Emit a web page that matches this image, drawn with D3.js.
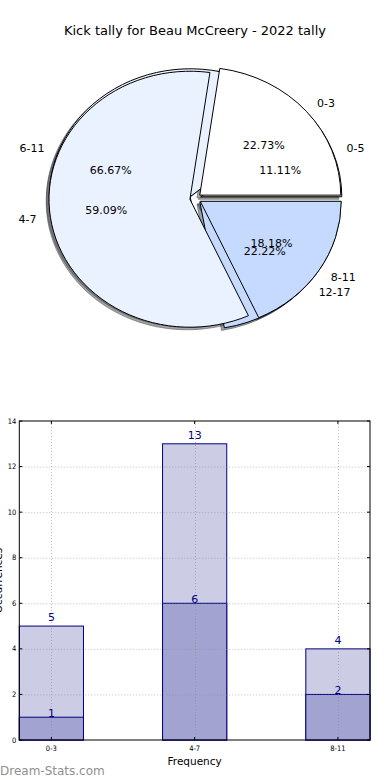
<!DOCTYPE html>
<html><head><meta charset="utf-8">
<script src="https://cdn.jsdelivr.net/npm/d3@7"></script>
<style>body{margin:0;background:#fff} svg{display:block}</style>
</head><body><svg id="c" width="390" height="780"></svg>
<script>
const titleText = "Kick tally for Beau McCreery - 2022 tally";
const pieACategories = ["0-3","4-7","8-11"];
const pieAValues = [5,13,4];
const pieBCategories = ["0-5","6-11","12-17"];
const pieBValues = [1,6,2];
const pieColors = ["#ffffff","#ebf2ff","#c6daff"];
const barCategories = ["0-3","4-7","8-11"];
const barTotal = [5,13,4];
const barInner = [1,6,2];
const yTicks = [0,2,4,6,8,10,12,14];
const yLabel = "Occurrences";
const xLabel = "Frequency";
const watermark = "Dream-Stats.com";

const svg = d3.select("#c");
const FONT = "'DejaVu Sans', Verdana, sans-serif";
svg.append("text").attr("x",195).attr("y",35).attr("text-anchor","middle")
  .style("font-family",FONT).style("font-size","13px").text(titleText);

// ---- Pie ----
const cx=195.5, cy=198.5, rx=141, ry=128;
const sx = d3.scaleLinear().domain([0,1]).range([cx,cx+rx]);
const sy = d3.scaleLinear().domain([0,1]).range([cy,cy-ry]);
const explode=0.04, shOff=-0.02;
const arc = d3.arc().innerRadius(0).outerRadius(1);
function layout(values, cats){
  const p = d3.pie().sort(null).startAngle(Math.PI/2).endAngle(Math.PI/2-2*Math.PI)(values);
  const tot = d3.sum(values);
  return p.map((d,i)=>{ const a=(d.startAngle+d.endAngle)/2; const th=Math.PI/2-a;
    return {...d, th, cat:cats[i], pct:(d.value/tot*100).toFixed(2)+"%", color:pieColors[i],
      ox:explode*Math.cos(th), oy:explode*Math.sin(th)}; });
}
const A = layout(pieAValues, pieACategories);
const B = layout(pieBValues, pieBCategories);
const pg = svg.append("g");
function shade(c){ const r=d3.rgb(c); return d3.rgb(r.r*0.3,r.g*0.3,r.b*0.3).toString(); }
// shadows (beneath all wedges)
[B,A].forEach(P=>P.forEach(d=>{
  pg.append("path").attr("d",arc(d))
    .attr("transform",`translate(${sx(d.ox+shOff)},${sy(d.oy+shOff)}) scale(${rx},${ry})`)
    .attr("fill",shade(d.color)).attr("fill-opacity",0.5)
    .attr("stroke",shade(d.color)).attr("stroke-opacity",0.5).attr("stroke-width",1)
    .attr("vector-effect","non-scaling-stroke");
}));
[B,A].forEach(P=>P.forEach(d=>{
  pg.append("path").attr("d",arc(d))
    .attr("transform",`translate(${sx(d.ox)},${sy(d.oy)}) scale(${rx},${ry})`)
    .attr("fill",d.color).attr("stroke","#000").attr("stroke-width",1)
    .attr("stroke-linejoin","miter")
    .attr("vector-effect","non-scaling-stroke");
}));
[B,A].forEach(P=>P.forEach(d=>{
  const lx=d.ox+1.1*Math.cos(d.th), ly=d.oy+1.1*Math.sin(d.th);
  pg.append("text").attr("x",sx(lx)).attr("y",sy(ly)).attr("dy","0.35em")
    .attr("text-anchor",lx>0?"start":"end")
    .style("font-family",FONT).style("font-size","11px").text(d.cat);
  const px=d.ox+0.6*Math.cos(d.th), py=d.oy+0.6*Math.sin(d.th);
  pg.append("text").attr("x",sx(px)).attr("y",sy(py)).attr("dy","0.35em")
    .attr("text-anchor","middle")
    .style("font-family",FONT).style("font-size","11px").text(d.pct);
}));

// ---- Bars ----
const L=19.3, R=370, T=421, Bt=740;
const x = d3.scaleBand().domain(barCategories).range([L,R]).paddingInner(0.552).paddingOuter(0);
const y = d3.scaleLinear().domain([0,14]).range([Bt,T]);
const bg = svg.append("g");
const navy="#000080";
bg.selectAll("rect.tot").data(barTotal).join("rect").attr("class","tot")
  .attr("x",(d,i)=>x(barCategories[i])).attr("width",x.bandwidth())
  .attr("y",d=>y(d)).attr("height",d=>Bt-y(d))
  .attr("fill","#ccccE5").attr("stroke",navy).attr("stroke-width",1);
bg.selectAll("rect.inn").data(barInner).join("rect").attr("class","inn")
  .attr("x",(d,i)=>x(barCategories[i])).attr("width",x.bandwidth())
  .attr("y",d=>y(d)).attr("height",d=>Bt-y(d))
  .attr("fill","#a3a3d1").attr("stroke",navy).attr("stroke-width",1);
// grid
const grid = bg.append("g").attr("stroke","#888").attr("stroke-opacity",0.55)
  .attr("stroke-dasharray","1,2").attr("stroke-width",1);
yTicks.slice(1,-1).forEach(t=>grid.append("line").attr("x1",L).attr("x2",R).attr("y1",y(t)+0.5).attr("y2",y(t)+0.5));
barCategories.forEach(c=>{const xc=Math.round(x(c)+x.bandwidth()/2)+0.5; grid.append("line").attr("x1",xc).attr("x2",xc).attr("y1",T).attr("y2",Bt);});
// frame
bg.append("rect").attr("x",L).attr("y",T).attr("width",R-L).attr("height",Bt-T)
  .attr("fill","none").attr("stroke","#000").attr("stroke-width",1);
// ticks
yTicks.forEach(t=>{
  bg.append("line").attr("x1",L).attr("x2",L+3).attr("y1",y(t)).attr("y2",y(t)).attr("stroke","#000");
  bg.append("line").attr("x1",R-3).attr("x2",R).attr("y1",y(t)).attr("y2",y(t)).attr("stroke","#000");
  bg.append("text").attr("x",L-3).attr("y",y(t)).attr("dy","0.35em").attr("text-anchor","end")
    .style("font-family","'DejaVu Sans Condensed', 'DejaVu Sans', sans-serif").style("font-size","7.5px").text(t);
});
barCategories.forEach(c=>{
  const xc=x(c)+x.bandwidth()/2;
  bg.append("line").attr("x1",xc).attr("x2",xc).attr("y1",Bt).attr("y2",Bt-3).attr("stroke","#000");
  bg.append("line").attr("x1",xc).attr("x2",xc).attr("y1",T).attr("y2",T+3).attr("stroke","#000");
  bg.append("text").attr("x",xc).attr("y",748).attr("dy","0.35em").attr("text-anchor","middle")
    .style("font-family","'DejaVu Sans Condensed', 'DejaVu Sans', sans-serif").style("font-size","7.5px").text(c);
});
// value labels
barTotal.forEach((v,i)=>bg.append("text").attr("x",x(barCategories[i])+x.bandwidth()/2).attr("y",y(v)-5)
  .attr("text-anchor","middle").attr("fill",navy).style("font-family",FONT).style("font-size","11px").text(v));
barInner.forEach((v,i)=>bg.append("text").attr("x",x(barCategories[i])+x.bandwidth()/2).attr("y",y(v))
  .attr("text-anchor","middle").attr("fill",navy).style("font-family",FONT).style("font-size","11px").text(v));
// axis labels
bg.append("text").attr("x",(L+R)/2).attr("y",761).attr("dy","0.35em").attr("text-anchor","middle")
  .style("font-family",FONT).style("font-size","10.5px").text(xLabel);
bg.append("text").attr("transform",`translate(1.5,${(T+Bt)/2}) rotate(-90)`).attr("text-anchor","middle")
  .style("font-family",FONT).style("font-size","10.5px").text(yLabel);
svg.append("text").attr("x",0).attr("y",775).attr("fill","#909090")
  .style("font-family",FONT).style("font-size","12px").text(watermark);
</script></body></html>
